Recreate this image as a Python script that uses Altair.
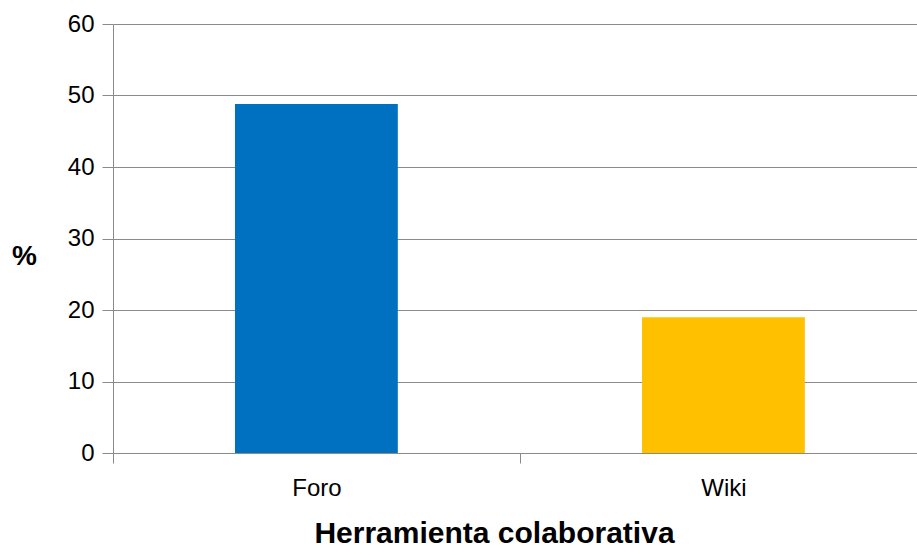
import altair as alt
import pandas as pd

# Share of use by collaborative tool (%)
herramientas = ["Foro", "Wiki"]
porcentajes = [48.8, 19.0]
colores = ["#0070c0", "#ffc000"]

df = pd.DataFrame({"herramienta": herramientas, "pct": porcentajes})

FONT = "Liberation Sans"
GRID = "#8a8a8a"

chart = (
    alt.Chart(df)
    .mark_bar()
    .encode(
        x=alt.X(
            "herramienta:N",
            sort=herramientas,
            scale=alt.Scale(paddingInner=0.6, paddingOuter=0.2877, align=0.521),
            axis=alt.Axis(
                title="Herramienta colaborativa",
                titleFont=FONT,
                titleFontSize=30,
                titleFontWeight="bold",
                titleColor="#000000",
                titleBaseline="alphabetic",
                titleAnchor="start",
                titleAlign="center",
                titleX=381,
                titleY=89,
                labelFont=FONT,
                labelFontSize=24,
                labelColor="#000000",
                labelAngle=0,
                labelPadding=13,
                labelOffset=122,
                # ticks sit midway in the gaps between bars
                bandPosition=0,
                tickOffset=-122,
                tickSize=10,
                tickColor=GRID,
                tickWidth=1,
                domainColor=GRID,
                domainWidth=1,
                grid=False,
            ),
        ),
        y=alt.Y(
            "pct:Q",
            scale=alt.Scale(domain=[0, 60], nice=False),
            axis=alt.Axis(
                values=[0, 10, 20, 30, 40, 50, 60],
                title="%",
                titleFont=FONT,
                titleFontSize=28,
                titleFontWeight="bold",
                titleColor="#000000",
                titleAngle=0,
                titleAlign="center",
                titleBaseline="middle",
                titleX=-89,
                titleY=232,
                labelFont=FONT,
                labelFontSize=24,
                labelColor="#000000",
                labelPadding=8,
                tickSize=11,
                tickColor=GRID,
                tickWidth=1,
                domainColor=GRID,
                domainWidth=1,
                grid=True,
                gridColor=GRID,
                gridWidth=1,
            ),
        ),
        color=alt.Color(
            "herramienta:N",
            scale=alt.Scale(domain=herramientas, range=colores),
            legend=None,
        ),
    )
    .properties(
        width=804,
        height=429,
        autosize=alt.AutoSizeParams(type="none"),
        padding={"left": 113, "top": 24, "right": 0, "bottom": 102},
        background="#ffffff",
    )
    .configure_view(stroke=None)
)

chart.save("out.html", embed_options={"renderer": "svg", "actions": False})
